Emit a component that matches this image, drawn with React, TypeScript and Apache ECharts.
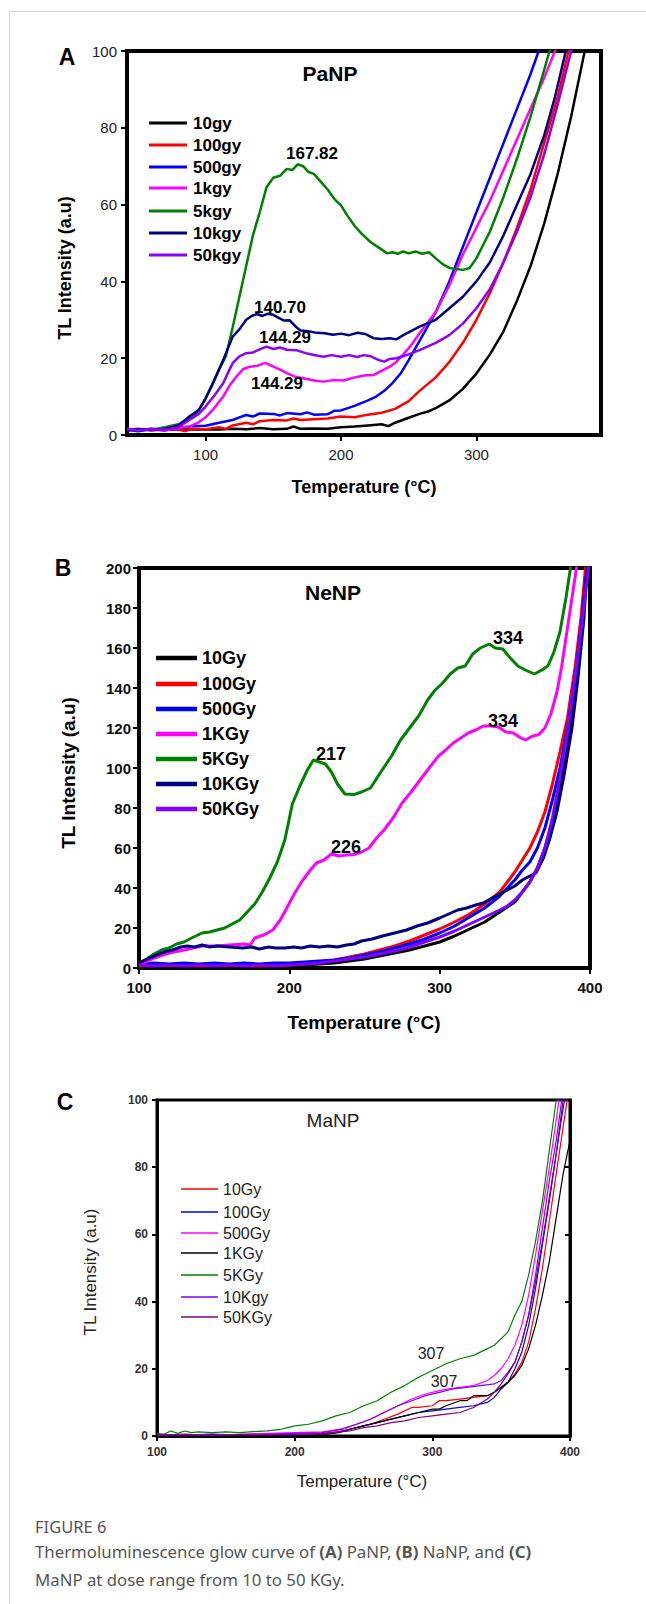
import React, { useEffect, useRef } from 'react';
import * as echarts from 'echarts';

// ---------- Panel A (PaNP) ----------
const A_NAMES = ['10gy', '100gy', '500gy', '1kgy', '5kgy', '10kgy', '50kgy'];
const A_COLORS = ['#000000', '#ff0000', '#0000ff', '#ff00ff', '#008000', '#000080', '#8b00ff'];
const A_X_TICKS = [100, 200, 300];
const A_10gy = [[42,1.5],[50,1.2],[60,1.6],[70,1.3],[80,1.5],[90,1.4],[100,1.5],[110,1.4],[120,1.6],[130,1.5],[140,1.8],[150,1.5],[160,1.6],[165,2.2],[170,1.6],[180,1.7],[190,1.6],[200,2.0],[210,2.2],[220,2.5],[230,2.8],[235,2.3],[240,3.2],[250,4.5],[258,5.5],[265,6.2],[270,7],[280,9],[290,12],[300,16],[310,21],[320,27],[330,35],[340,44],[350,55],[360,68],[370,83],[380,100],[383,105]];
const A_100gy = [[42,1.3],[50,1.6],[60,1.2],[70,1.5],[80,1.4],[85,1.0],[90,1.6],[100,1.5],[110,2.0],[115,1.6],[120,2.5],[130,3.2],[135,2.8],[140,3.6],[150,3.9],[160,3.8],[165,4.3],[170,3.9],[180,4.1],[190,4.3],[200,4.8],[210,4.6],[220,5.3],[230,5.8],[240,6.8],[250,8.8],[258,11.5],[270,15],[280,19],[290,24],[300,30],[310,37],[320,45],[330,54],[340,64],[350,76],[360,88],[368,100],[371,105]];
const A_500gy = [[42,1.4],[50,1.0],[60,1.5],[70,1.2],[80,1.8],[90,2.3],[100,2.4],[110,3.2],[120,3.9],[125,4.6],[130,5.2],[135,4.8],[140,5.6],[150,5.5],[155,5.1],[160,5.7],[170,5.4],[175,5.9],[180,5.3],[190,5.4],[195,6.3],[200,6.4],[210,7.6],[215,8.3],[220,9.0],[226,10.0],[232,11.5],[238,13.5],[244,16],[250,19.5],[258,24.5],[270,32],[280,40],[290,49],[300,58],[310,67],[320,76],[330,85],[340,94],[346,100],[349,104]];
const A_1kgy = [[42,1.6],[50,1.3],[60,1.6],[70,1.2],[80,1.8],[88,2.2],[95,3.3],[100,4.6],[106,6.8],[113,10],[118,13],[123,15.3],[128,17.2],[133,17.8],[138,18.0],[144,18.8],[150,17.8],[155,17.0],[160,16.1],[166,15.2],[172,14.8],[180,14.2],[187,13.9],[195,14.3],[202,14.2],[210,15.0],[217,15.5],[224,15.6],[231,16.9],[236,17.8],[241,19.1],[246,21],[251,23],[258,26.5],[270,32],[280,39],[290,47],[300,54],[310,61],[320,69],[330,77],[340,85],[350,93],[358,100],[361,104]];
const A_5kgy = [[42,1.2],[50,1.5],[60,1.4],[70,2.0],[80,2.8],[90,4.6],[95,6.5],[100,9.5],[105,13],[110,17],[115,20.5],[120,28],[125,36],[130,44],[135,52],[140,58],[145,64.5],[150,67],[155,67.5],[160,69.3],[164,69],[168,70.5],[172,70],[176,68.5],[180,68],[185,66],[190,64],[195,61.5],[200,59.8],[205,57],[210,54.5],[215,52.5],[222,50.2],[228,48.8],[234,47.3],[238,47.6],[242,47.2],[246,47.8],[250,47.3],[255,47.8],[260,47.2],[265,47.6],[270,46],[275,44.5],[280,43.5],[285,43.2],[290,43],[295,43.5],[300,46],[310,53],[320,62],[330,72],[340,83],[350,95],[354,100],[357,104]];
const A_10kgy = [[42,1.2],[50,1.5],[60,1.3],[70,1.6],[80,2.5],[88,4.8],[95,6.5],[100,9.5],[106,14],[113,19.5],[117,23],[120,25.6],[125,27.5],[130,30],[134,31],[138,31.5],[142,31.0],[146,31.6],[150,31.3],[154,30.5],[158,29.8],[162,29.9],[166,28.4],[170,27.2],[176,27.0],[182,26.6],[188,26.5],[194,26.1],[200,26.4],[206,26.0],[212,26.6],[218,26.3],[224,25.2],[230,25.0],[236,25.2],[241,24.9],[246,26],[251,26.9],[258,28.2],[270,30],[280,33],[290,36],[300,40],[310,45],[320,52],[330,60],[340,68],[350,78],[358,88],[366,100],[369,104]];
const A_50kgy = [[42,1.5],[50,1.2],[60,1.5],[70,1.4],[80,2.0],[88,3.9],[95,5.5],[100,7.4],[107,10.5],[113,13.5],[117,16.5],[120,18.7],[125,20.5],[130,21.3],[135,21.5],[140,22.3],[145,23.0],[150,22.4],[155,22.8],[160,22.2],[167,22.1],[175,21.2],[182,20.7],[187,20.4],[193,20.8],[200,20.4],[206,20.8],[212,20.3],[217,20.8],[222,20.5],[228,19.5],[232,19.1],[236,19.8],[241,20.0],[250,21],[258,22.1],[270,24],[280,26],[290,29],[300,33],[310,38],[320,45],[330,53],[340,62],[350,73],[360,86],[370,100],[373,104]];
const A_DATA = [A_10gy, A_100gy, A_500gy, A_1kgy, A_5kgy, A_10kgy, A_50kgy];
const A_PEAKS = ['167.82', '140.70', '144.29', '144.29'];

// ---------- Panel B (NeNP) ----------
const B_NAMES = ['10Gy', '100Gy', '500Gy', '1KGy', '5KGy', '10KGy', '50KGy'];
const B_COLORS = ['#000000', '#ff0000', '#0000ff', '#ff00ff', '#008000', '#000080', '#7f00ff'];
const B_10Gy = [[100,1],[120,0.8],[140,1],[160,0.7],[180,1],[200,1],[210,1.5],[220,2],[230,2.5],[240,3.5],[250,4.5],[260,6],[270,7.5],[280,9],[290,11],[300,13],[310,16],[320,19.5],[330,23],[340,28],[350,33],[355,38],[360,43],[365,50],[370,60],[375,72],[380,90],[385,110],[390,138],[394,165],[398,200],[399,206]];
const B_100Gy = [[100,1],[120,1.5],[140,1],[160,1.5],[180,1],[200,1.5],[210,2],[220,3],[230,4],[240,5.5],[250,7],[260,9],[270,11],[280,13.5],[290,16.5],[300,19.5],[310,23],[320,27],[330,32],[340,38],[345,43],[350,48],[355,54],[360,60],[365,68],[370,78],[375,92],[380,108],[385,125],[390,150],[394,175],[397,200],[398,206]];
const B_500Gy = [[100,2],[110,2.5],[120,2],[130,2.5],[140,2],[150,2.5],[160,2],[170,2.5],[180,2],[190,2.5],[200,2.5],[210,3],[220,3.5],[230,4],[240,5],[250,6.5],[260,8],[270,10],[280,12],[290,14.5],[300,17.5],[310,21],[320,25.5],[330,30],[340,36],[345,40],[350,44],[355,49],[360,53],[365,60],[370,70],[375,84],[380,100],[385,120],[390,145],[394,170],[398,200],[399,206]];
const B_1KGy = [[100,1.5],[110,5],[120,7.5],[130,9],[142,11],[150,11],[160,11.5],[170,12],[174,11.5],[177,15],[183,16.5],[189,19],[194,24],[199,31],[204,38],[209,44],[214,49],[218,52.5],[223,54],[228,57],[233,56],[238,56.5],[243,56.7],[248,58],[253,60],[258,65],[263,69],[269,75],[275,82.5],[281,88],[287,94],[293,100],[299,105.8],[304,109],[309,112.5],[314,115],[319,117.5],[324,119],[329,121],[334,121],[339,120.5],[344,118],[349,117.5],[354,115],[357,114],[362,116],[366,116.7],[370,120],[374,127],[378,138],[381,150],[384,165],[388,185],[391,200],[392,205]];
const B_5KGy = [[100,2.5],[105,4.5],[110,7],[115,9],[120,10],[125,12],[130,13],[135,15],[142,17.5],[147,18],[152,19],[157,20],[162,22],[167,24],[172,28],[177,32],[182,38],[187,45],[192,53],[197,64],[202,82],[207,91],[212,99],[216,104],[220,103],[224,102],[228,98],[232,92],[237,87],[243,86.7],[248,88],[254,90],[260,97],[268,106],[274,114],[280,120],[286,126],[292,134],[297,139],[302,142.5],[307,147],[312,150],[317,151],[322,157],[327,160],[333,162],[337,160],[342,159.5],[347,155],[352,151],[357,149],[363,147],[368,149],[372,151],[376,158],[380,168],[384,185],[387,200],[388,205]];
const B_10KGy = [[100,2.5],[107,5],[115,7.5],[122,9],[128,10.5],[132,11],[137,10.5],[142,11.5],[147,10.5],[152,11],[160,10.5],[169,10],[175,10.5],[180,9.5],[186,10.5],[191,10],[197,10],[203,10.5],[208,10],[214,11],[220,10.5],[226,11],[232,10.5],[238,11.5],[243,12],[248,13.5],[255,14.5],[262,16],[270,17.5],[278,19],[285,21],[292,22.5],[300,25],[306,27],[312,29],[318,30],[324,31.5],[329,32.5],[335,35],[340,37],[345,39],[350,41],[355,44],[360,46],[364,47.5],[369,55],[373,64],[378,78],[383,97.5],[388,120],[392,145],[396,175],[398,200],[399,206]];
const B_50KGy = [[100,1.5],[110,1],[120,1.5],[130,1],[140,1.5],[150,1],[160,1.5],[170,1],[180,1.5],[190,1],[200,1.5],[210,2],[220,2.5],[230,3.5],[240,4.5],[250,5.5],[260,7],[270,8.5],[280,10.5],[290,13],[300,15.5],[310,18.5],[320,22],[330,25.5],[340,29],[345,31],[350,34],[355,38],[360,43],[365,50],[370,60],[375,75],[380,95],[385,118],[390,145],[395,175],[399,200],[400,206]];
const B_DATA = [B_10Gy, B_100Gy, B_500Gy, B_1KGy, B_5KGy, B_10KGy, B_50KGy];
const B_PEAKS = ['334', '334', '217', '226'];

// ---------- Panel C (MaNP) ----------
const C_NAMES = ['10Gy', '100Gy', '500Gy', '1KGy', '5KGy', '10Kgy', '50KGy'];
const C_COLORS = ['#ff0000', '#0000ff', '#ff00ff', '#000000', '#008000', '#8000ff', '#800080'];
const C_10Gy = [[100,0.3],[120,0.5],[140,0.2],[160,0.4],[180,0.3],[200,0.5],[220,0.8],[235,1.5],[245,2.5],[255,3.5],[265,5],[275,6.5],[285,8.5],[290,8.5],[300,9],[305,10.5],[310,10.5],[320,11],[330,11.5],[340,12],[345,13],[350,14.5],[355,16],[360,18.5],[365,22],[370,28],[375,38],[380,50],[385,64],[390,78],[395,92],[398,100],[399,103]];
const C_100Gy = [[100,0.5],[120,0.3],[140,0.6],[160,0.3],[180,0.5],[200,0.4],[220,0.5],[230,1],[240,2],[250,3],[260,4],[270,5],[280,6],[290,7],[300,7.5],[310,8],[320,8.5],[330,9],[340,10],[345,11.5],[350,14],[355,16],[360,20],[365,25],[370,33],[375,44],[380,57],[385,70],[390,84],[394,95],[396,100],[397,103]];
const C_500Gy = [[100,0.3],[120,0.5],[140,0.3],[160,0.5],[180,0.8],[200,1],[220,1.2],[235,2],[245,3.5],[255,5],[265,7],[275,9],[285,11],[295,12.5],[305,13.5],[312,14],[320,14.5],[330,15],[340,16.5],[345,18],[350,20],[355,23],[360,27],[365,33],[370,42],[375,54],[380,67],[385,80],[390,94],[392,100],[393,103]];
const C_1KGy = [[100,0.3],[120,0.2],[140,0.4],[160,0.2],[180,0.3],[200,0.3],[220,0.5],[232,1],[240,2],[250,3],[260,4],[270,5],[280,6],[290,7],[300,8],[305,8],[310,9],[320,10.5],[325,10.5],[330,12],[340,12],[345,13],[350,14.5],[355,16],[360,18],[365,21],[370,26],[375,33],[380,42],[385,52],[390,65],[395,78],[400,88]];
const C_5KGy = [[100,0.8],[105,0.5],[110,1.5],[115,0.8],[120,1.5],[125,1],[130,1.2],[140,1],[150,1.2],[160,1],[170,1.3],[180,1.5],[190,2],[195,2.5],[200,3],[210,3.5],[220,4.5],[230,6],[240,7],[250,9],[260,10.5],[270,13],[280,15],[290,17.5],[300,19.5],[310,21.5],[320,23],[330,24],[340,26],[345,27],[350,29],[355,31],[360,36],[365,40],[370,48],[375,58],[380,70],[385,85],[390,100],[391,103]];
const C_10Kgy = [[100,0.3],[120,0.5],[140,0.3],[160,0.5],[180,0.5],[200,0.8],[220,1],[235,2.2],[245,3.5],[255,5],[265,7],[275,9],[285,10.5],[295,12],[305,13],[315,14],[325,14.5],[335,15],[345,15.5],[350,16.5],[355,19],[360,22],[365,28],[370,36],[375,48],[380,62],[385,76],[390,88],[394,100],[395,103]];
const C_50KGy = [[100,0.2],[120,0.4],[140,0.2],[160,0.4],[180,0.3],[200,0.4],[220,0.6],[240,1.5],[250,2.5],[260,3],[270,4],[280,4.5],[290,5.5],[300,6],[310,6.5],[320,7],[330,8.5],[340,11],[345,13],[350,15.5],[355,18.5],[360,22],[365,28],[370,36],[375,46],[380,58],[385,71],[390,84],[395,100],[396,103]];
const C_DATA = [C_10Gy, C_100Gy, C_500Gy, C_1KGy, C_5KGy, C_10Kgy, C_50KGy];
const C_PEAKS = ['307', '307'];

const FONT = '"Liberation Sans", Arial, sans-serif';

function makeSeries(names: string[], data: number[][][], colors: string[], width: number, axis: number) {
  return names.map((n, i) => ({
    type: 'line',
    name: n,
    data: data[i],
    xAxisIndex: axis,
    yAxisIndex: axis,
    symbol: 'none',
    showSymbol: false,
    silent: true,
    clip: true,
    lineStyle: { color: colors[i], width },
    itemStyle: { color: colors[i] },
    z: 3,
  }));
}

function txt(text: string, x: number, y: number, font: string, opts: any = {}) {
  return {
    type: 'text',
    x,
    y,
    rotation: opts.rotation || 0,
    silent: true,
    z: 10,
    style: {
      text,
      font,
      fill: opts.fill || '#000',
      textAlign: opts.align || 'center',
      textVerticalAlign: 'middle',
    },
  };
}

function legend(names: string[], colors: string[], x1: number, x2: number, tx: number, ys: number[], lw: number, font: string, fill: string) {
  const out: any[] = [];
  names.forEach((n, i) => {
    out.push({ type: 'line', silent: true, z: 10, shape: { x1, y1: ys[i], x2, y2: ys[i] }, style: { stroke: colors[i], lineWidth: lw } });
    out.push(txt(n, tx, ys[i], font, { align: 'left', fill }));
  });
  return out;
}

function axisX(grid: number, min: number, max: number, opts: any) {
  return {
    type: 'value', gridIndex: grid, min, max,
    ...(opts.interval ? { interval: opts.interval } : {}),
    axisLine: { show: true, onZero: false, lineStyle: { color: '#000', width: opts.lw } },
    axisTick: { show: true, length: opts.tick, ...(opts.custom ? { customValues: opts.custom } : {}), lineStyle: { color: '#000', width: opts.tw } },
    axisLabel: { margin: opts.margin, ...(opts.custom ? { customValues: opts.custom } : {}), fontSize: opts.fs, fontWeight: opts.fw, color: opts.color, fontFamily: FONT },
    splitLine: { show: false },
  };
}

function axisY(grid: number, min: number, max: number, interval: number, opts: any) {
  return {
    type: 'value', gridIndex: grid, min, max, interval,
    position: opts.position || 'left',
    axisLine: { show: true, onZero: false, lineStyle: { color: '#000', width: opts.lw } },
    axisTick: { show: true, inside: !!opts.inside, length: opts.tick, lineStyle: { color: '#000', width: opts.tw } },
    axisLabel: { show: opts.label !== false, margin: opts.margin, fontSize: opts.fs, fontWeight: opts.fw, color: opts.color, fontFamily: FONT },
    splitLine: { show: false },
  };
}

const option: any = {
  animation: false,
  backgroundColor: 'transparent',
  grid: [
    { left: 127, top: 51, width: 474, height: 384, show: true, borderColor: '#000', borderWidth: 4, backgroundColor: 'transparent', outerBoundsMode: 'none' },
    { left: 139, top: 568, width: 451, height: 400, show: true, borderColor: '#000', borderWidth: 4, backgroundColor: 'transparent', outerBoundsMode: 'none' },
    { left: 157, top: 1100, width: 413, height: 336, show: true, borderColor: '#000', borderWidth: 3, backgroundColor: 'transparent', outerBoundsMode: 'none' },
  ],
  xAxis: [
    axisX(0, 42, 392, { custom: A_X_TICKS, lw: 4, tick: 6, tw: 2, margin: 12, fs: 15, fw: 'normal', color: '#222' }),
    axisX(1, 100, 400, { interval: 100, lw: 4, tick: 6, tw: 2, margin: 12, fs: 15, fw: 'bold', color: '#111' }),
    axisX(2, 100, 400, { interval: 100, lw: 3, tick: 5, tw: 2, margin: 10, fs: 12, fw: 'bold', color: '#333' }),
  ],
  yAxis: [
    axisY(0, 0, 100, 20, { lw: 4, tick: 6, tw: 2, margin: 10, fs: 15, fw: 'normal', color: '#222' }),
    axisY(1, 0, 200, 20, { lw: 4, tick: 6, tw: 2, margin: 8, fs: 15, fw: 'bold', color: '#111' }),
    axisY(2, 0, 100, 20, { lw: 3, tick: 5, tw: 2, margin: 9, fs: 12, fw: 'bold', color: '#333' }),
    axisY(2, 0, 100, 20, { position: 'right', inside: true, label: false, lw: 3, tick: 5, tw: 2, margin: 8, fs: 12, fw: 'bold', color: '#333' }),
  ],
  series: [
    ...makeSeries(A_NAMES, A_DATA, A_COLORS, 2.5, 0),
    ...makeSeries(B_NAMES, B_DATA, B_COLORS, 3, 1),
    ...makeSeries(C_NAMES, C_DATA, C_COLORS, 1.2, 2),
  ],
  graphic: [
    // Panel A
    txt('A', 67, 57, `bold 23px ${FONT}`),
    txt('PaNP', 330, 73, `bold 21px ${FONT}`),
    txt('TL Intensity (a.u)', 65, 268, `bold 18px ${FONT}`, { rotation: Math.PI / 2 }),
    txt('Temperature (°C)', 364, 487, `bold 18px ${FONT}`),
    txt(A_PEAKS[0], 312, 153, `bold 17px ${FONT}`),
    txt(A_PEAKS[1], 280, 307, `bold 17px ${FONT}`),
    txt(A_PEAKS[2], 285, 337, `bold 17px ${FONT}`),
    txt(A_PEAKS[3], 277, 383, `bold 17px ${FONT}`),
    ...legend(A_NAMES, A_COLORS, 149, 187, 193, [123, 145, 167, 188, 211, 233, 255], 3, `bold 17px ${FONT}`, '#000'),
    // Panel B
    txt('B', 63, 568, `bold 23px ${FONT}`),
    txt('NeNP', 333, 592, `bold 21px ${FONT}`),
    txt('TL Intensity (a.u)', 68, 773, `bold 19px ${FONT}`, { rotation: Math.PI / 2 }),
    txt('Temperature (°C)', 364, 1022, `bold 19px ${FONT}`),
    txt(B_PEAKS[0], 508, 638, `bold 18px ${FONT}`),
    txt(B_PEAKS[1], 503, 721, `bold 18px ${FONT}`),
    txt(B_PEAKS[2], 331, 754, `bold 18px ${FONT}`),
    txt(B_PEAKS[3], 346, 847, `bold 18px ${FONT}`),
    ...legend(B_NAMES, B_COLORS, 156, 197, 202, [658, 684, 709, 734, 759, 784, 809], 4.5, `bold 18px ${FONT}`, '#000'),
    // Panel C
    txt('C', 65, 1102, `bold 23px ${FONT}`),
    txt('MaNP', 333, 1120, `19px ${FONT}`, { fill: '#222' }),
    txt('TL Intensity (a.u)', 90, 1272, `17px ${FONT}`, { rotation: Math.PI / 2, fill: '#222' }),
    txt('Temperature (°C)', 362, 1481, `17px ${FONT}`, { fill: '#222' }),
    txt(C_PEAKS[0], 431, 1353, `16px ${FONT}`, { fill: '#222' }),
    txt(C_PEAKS[1], 444, 1381, `16px ${FONT}`, { fill: '#222' }),
    ...legend(C_NAMES, C_COLORS, 181, 218, 223, [1189, 1212, 1233, 1253, 1275, 1297, 1317], 1.5, `16px ${FONT}`, '#222'),
  ],
};

export default function App() {
  const ref = useRef<HTMLDivElement>(null);
  useEffect(() => {
    const chart = echarts.init(ref.current as HTMLDivElement, null, { renderer: 'svg' });
    chart.setOption(option);
    return () => chart.dispose();
  }, []);
  const cap: React.CSSProperties = { fontFamily: '"Noto Sans", "Open Sans", sans-serif', color: '#555', position: 'absolute', left: 35, whiteSpace: 'nowrap' };
  return (
    <div style={{ position: 'absolute', left: 0, top: 0, width: 646, height: 1604, background: '#fff', overflow: 'hidden' }}>
      <div ref={ref} style={{ position: 'absolute', left: 0, top: 0, width: 646, height: 1500 }} />
      <div style={{ position: 'absolute', left: 9, top: 11, right: 0, bottom: 0, borderTop: '1px solid #d6d6d6', borderLeft: '1px solid #d6d6d6', pointerEvents: 'none', zIndex: 2 }} />
      <div style={{ ...cap, top: 1516, fontSize: 16.5, lineHeight: '22px', color: '#555' }}>FIGURE 6</div>
      <div style={{ ...cap, top: 1538, fontSize: 16.8, lineHeight: '28px' }}>
        Thermoluminescence glow curve of <b>(A)</b> PaNP, <b>(B)</b> NaNP, and <b>(C)</b>
        <br />
        MaNP at dose range from 10 to 50 KGy.
      </div>
    </div>
  );
}
